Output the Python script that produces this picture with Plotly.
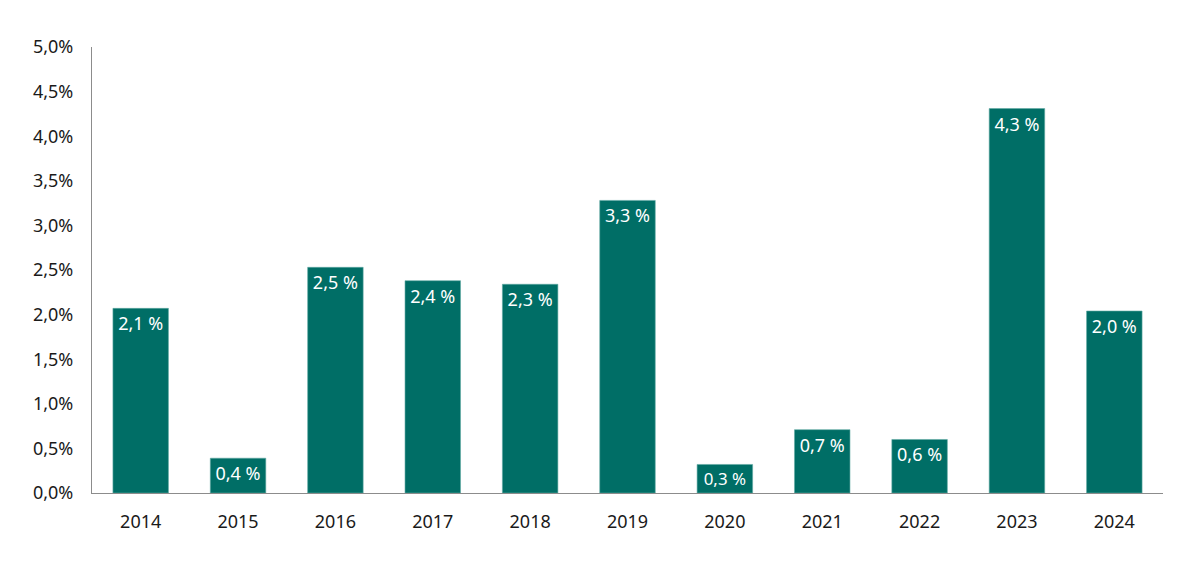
import plotly.graph_objects as go

# Données
years = ["2014", "2015", "2016", "2017", "2018", "2019", "2020", "2021", "2022", "2023", "2024"]
values = [2.07, 0.39, 2.53, 2.38, 2.34, 3.28, 0.32, 0.71, 0.60, 4.31, 2.04]
labels = ["2,1 %", "0,4 %", "2,5 %", "2,4 %", "2,3 %", "3,3 %", "0,3 %", "0,7 %", "0,6 %", "4,3 %", "2,0 %"]

teal = "#006E66"

fig = go.Figure(
    data=[
        go.Bar(
            x=years,
            y=values,
            text=labels,
            textposition="inside",
            insidetextanchor="end",
            textangle=0,
            textfont=dict(color="white", size=18),
            marker=dict(color=teal, line=dict(color="#5fa9a3", width=0.6)),
            cliponaxis=False,
        )
    ]
)

# Mise en forme
fig.update_layout(
    width=1198,
    height=568,
    margin=dict(l=84, r=43, t=39, b=83),
    paper_bgcolor="white",
    plot_bgcolor="white",
    font=dict(family="Noto Sans", size=18, color="#1a1a1a"),
    separators=", ",
    bargap=0.43,
    showlegend=False,
    xaxis=dict(
        showline=True,
        linecolor="#8c8c8c",
        linewidth=1.3,
        showgrid=False,
        ticks="",
        ticklabelstandoff=12,
        tickfont=dict(size=18),
    ),
    yaxis=dict(
        range=[0, 5],
        dtick=0.5,
        tick0=0,
        tickformat=".1f",
        ticksuffix="%",
        showline=True,
        linecolor="#8c8c8c",
        linewidth=1.3,
        showgrid=False,
        zeroline=False,
        ticks="",
        ticklabelstandoff=14,
        tickfont=dict(size=18),
    ),
)

fig.write_html("out.html")
